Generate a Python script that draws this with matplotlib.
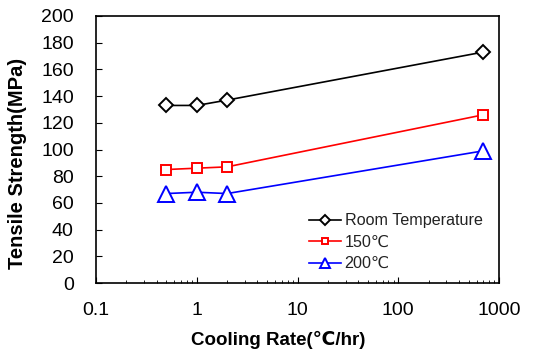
import matplotlib
matplotlib.use("Agg")
import matplotlib.pyplot as plt
import numpy as np

plt.rcParams['font.family'] = ['Liberation Sans', 'DejaVu Sans']

# cooling rate (C/hr) and tensile strength (MPa)
rate = [0.5, 1, 2, 700]
room_temp = [133, 133, 137, 173]
t150 = [85, 86, 87, 126]
t200 = [67, 68, 67, 99]

fig = plt.figure(figsize=(5.42, 3.56), dpi=100)
ax = fig.add_axes([96/542, 1 - 283/356, (499-96)/542, (283-16)/356])

ax.plot(rate, room_temp, '-D', color='black', mfc='white', mec='black', ms=7, mew=1.4, lw=1.2, label='Room Temperature')
ax.plot(rate, t150, '-s', color='red', mfc='white', mec='red', ms=7, mew=1.4, lw=1.2, label='150\u2103')
ax.plot(rate, t200, '-^', color='blue', mfc='white', mec='blue', ms=11, mew=1.4, lw=1.2, label='200\u2103')

ax.set_xscale('log')
ax.set_xlim(0.1, 1000)
ax.set_ylim(0, 200)
ax.set_yticks(np.arange(0, 201, 20))
ax.set_xticks([0.1, 1, 10, 100, 1000])
ax.set_xticklabels(['0.1', '1', '10', '100', '1000'])
ax.tick_params(axis='both', which='both', direction='in', labelsize=14, top=False, right=False)
ax.tick_params(axis='y', which='major', length=4, pad=16)
ax.tick_params(axis='x', which='major', length=4, pad=14)
ax.tick_params(axis='x', which='minor', length=2.5)
for s in ax.spines.values():
    s.set_linewidth(1.2)

ax.set_xlabel('Cooling Rate(\u2103/hr)', fontsize=13.5, fontweight='bold')
ax.set_ylabel('Tensile Strength(MPa)', fontsize=14.5, fontweight='bold')
ax.xaxis.set_label_coords(0.452, -0.18)
ax.yaxis.set_label_coords(-0.172, 0.446)

leg = ax.legend(loc='lower right', bbox_to_anchor=(0.975, 0.02), borderaxespad=0,
                frameon=False, fontsize=11.6, handlelength=2.0,
                handletextpad=0.2, labelspacing=0.4, markerscale=0.7)
for t in leg.get_texts():
    t.set_color('#222222')

fig.savefig('out.png', dpi=100)
